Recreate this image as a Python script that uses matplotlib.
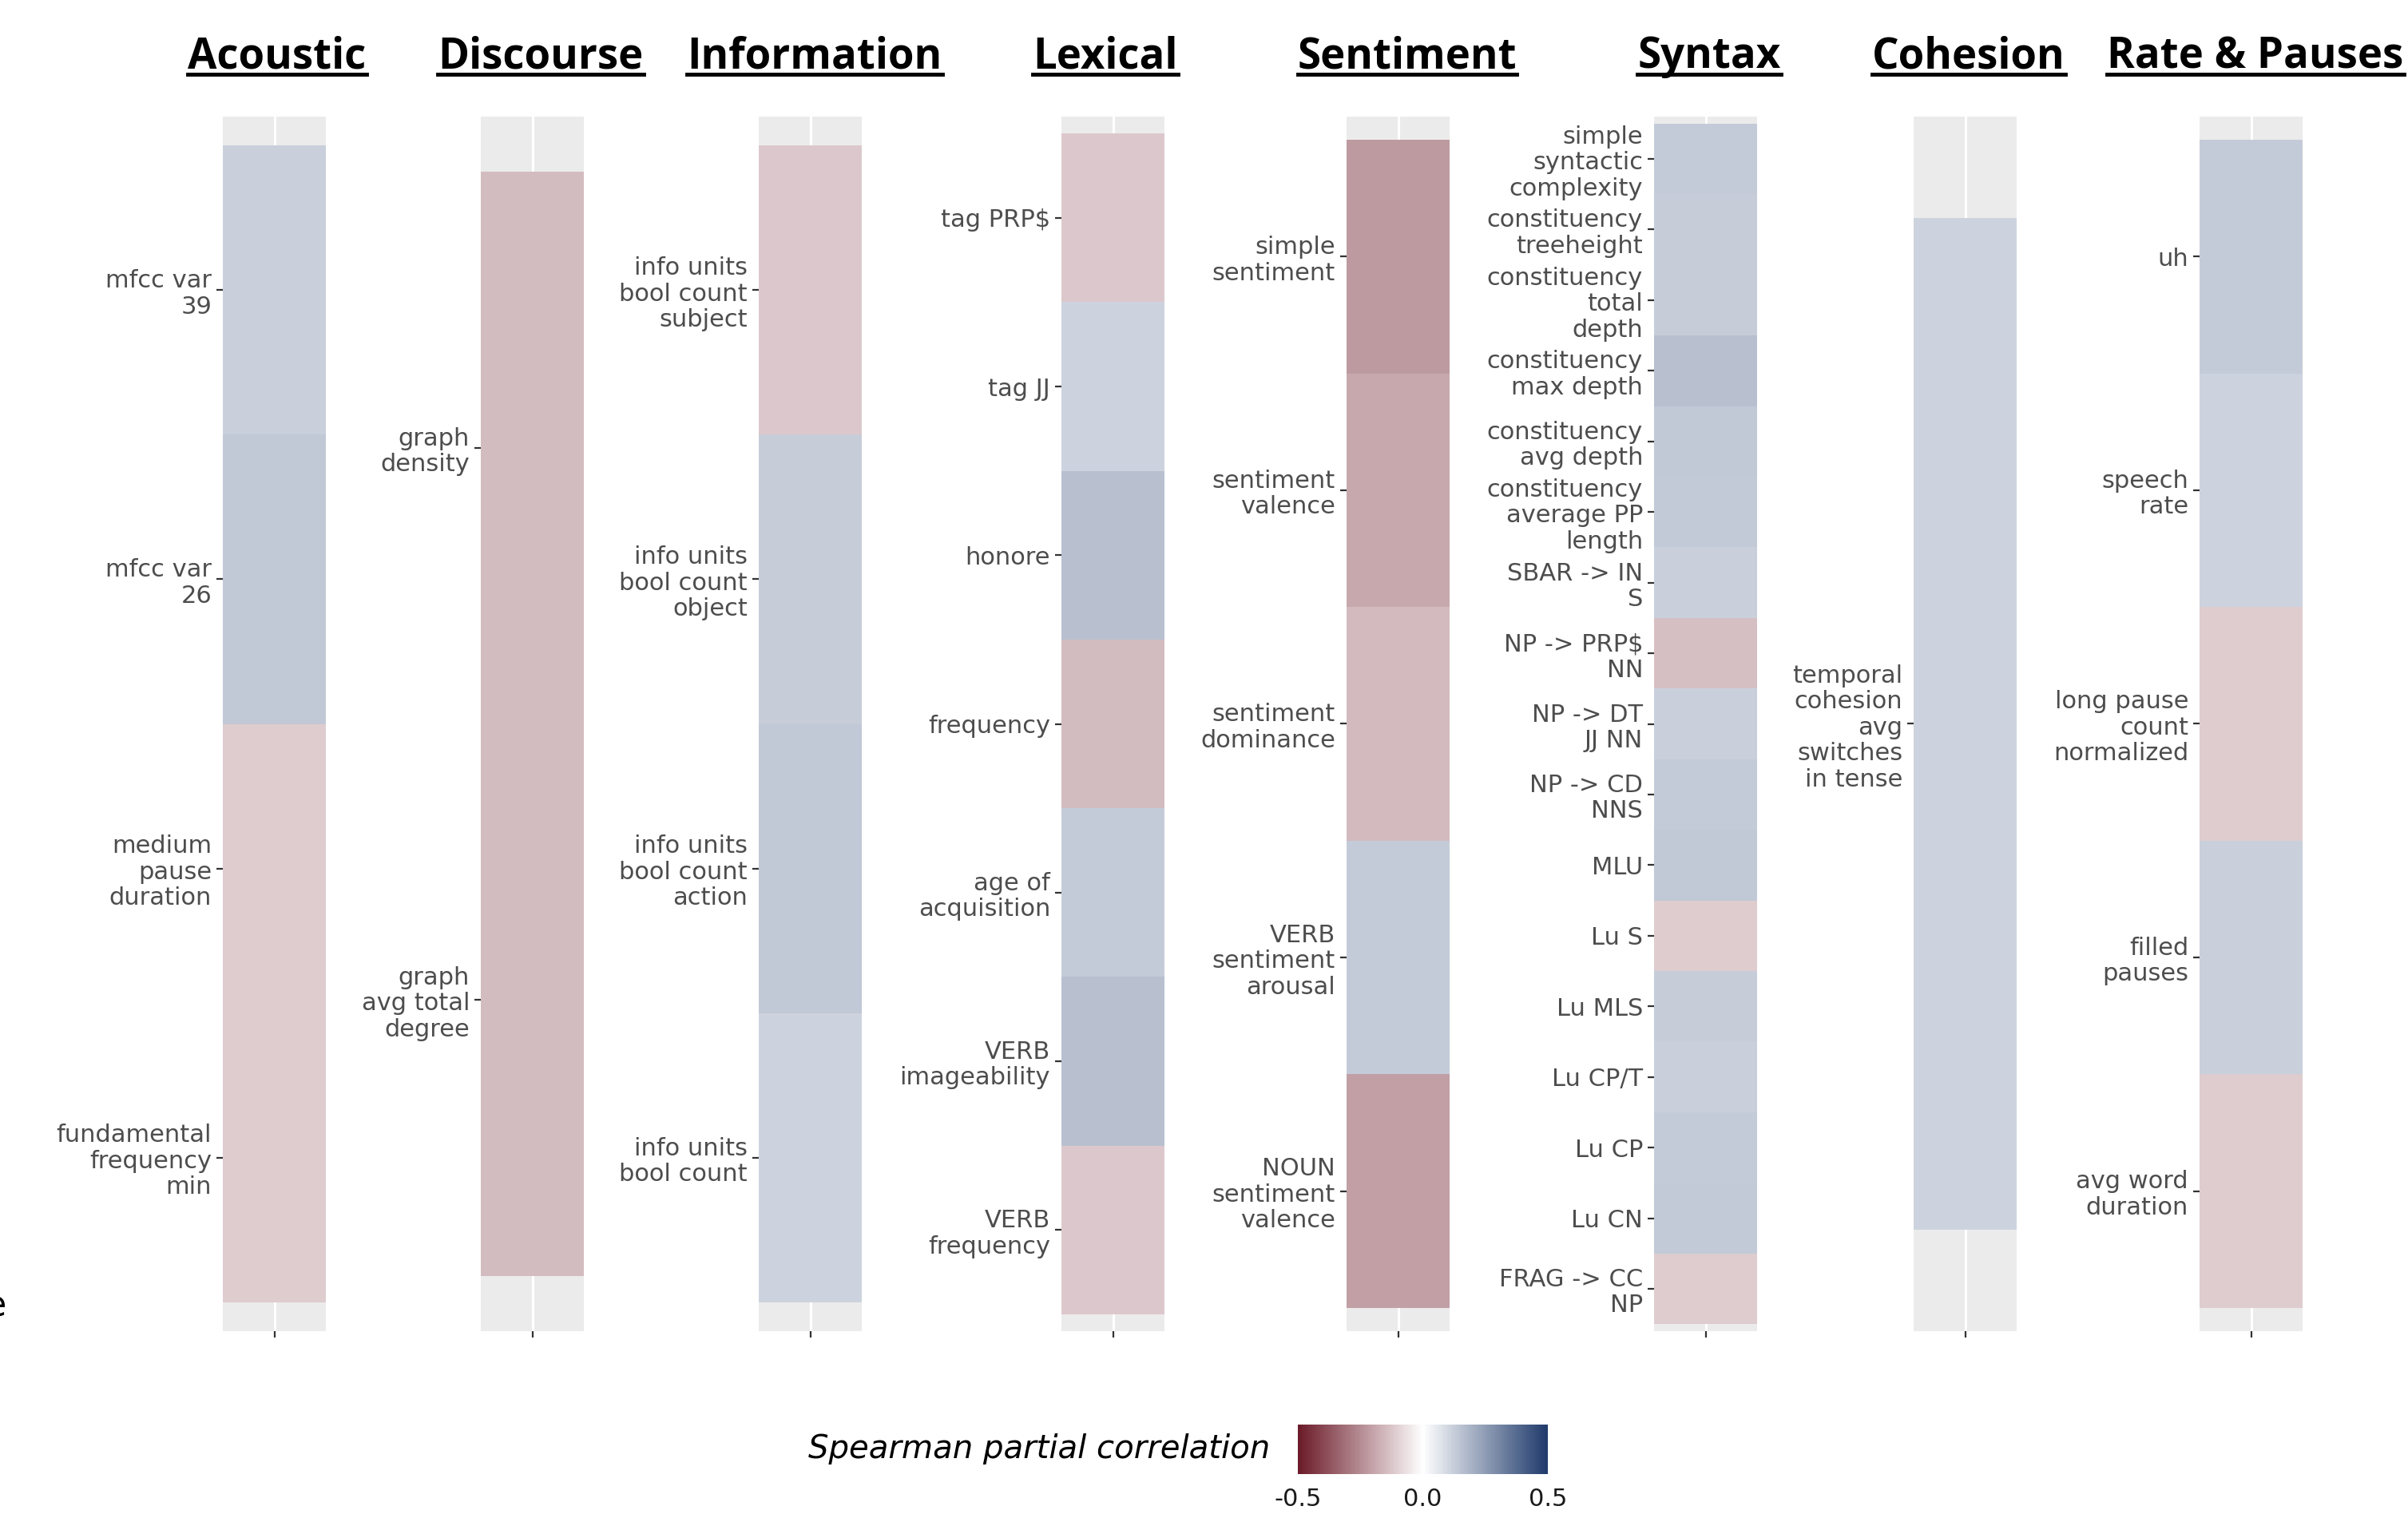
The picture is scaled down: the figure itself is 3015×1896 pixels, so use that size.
import matplotlib
matplotlib.use("Agg")
import matplotlib.pyplot as plt
from matplotlib.colors import LinearSegmentedColormap, Normalize
from matplotlib.cm import ScalarMappable
from matplotlib.lines import Line2D
import numpy as np

plt.rcParams['text.parse_math'] = False

# ---- data (top to bottom in each panel) ----
acoustic_labels = ["mfcc var\n39", "mfcc var\n26", "medium\npause\nduration",
                   "fundamental\nfrequency\nmin"]
acoustic_values = [0.12, 0.14, -0.11, -0.11]

discourse_labels = ["graph\ndensity", "graph\navg total\ndegree"]
discourse_values = [-0.145, -0.145]

information_labels = ["info units\nbool count\nsubject", "info units\nbool count\nobject",
                      "info units\nbool count\naction", "info units\nbool count"]
information_values = [-0.12, 0.125, 0.14, 0.11]

lexical_labels = ["tag PRP$", "tag JJ", "honore", "frequency", "age of\nacquisition",
                  "VERB\nimageability", "VERB\nfrequency"]
lexical_values = [-0.12, 0.11, 0.16, -0.145, 0.13, 0.16, -0.12]

sentiment_labels = ["simple\nsentiment", "sentiment\nvalence", "sentiment\ndominance",
                    "VERB\nsentiment\narousal", "NOUN\nsentiment\nvalence"]
sentiment_values = [-0.22, -0.19, -0.15, 0.13, -0.21]

syntax_labels = ["simple\nsyntactic\ncomplexity", "constituency\ntreeheight",
                 "constituency\ntotal\ndepth", "constituency\nmax depth",
                 "constituency\navg depth", "constituency\naverage PP\nlength",
                 "SBAR -> IN\nS", "NP -> PRP$\nNN", "NP -> DT\nJJ NN", "NP -> CD\nNNS",
                 "MLU", "Lu S", "Lu MLS", "Lu CP/T", "Lu CP", "Lu CN", "FRAG -> CC\nNP"]
syntax_values = [0.13, 0.125, 0.125, 0.16, 0.14, 0.135, 0.12, -0.14, 0.12, 0.13,
                 0.14, -0.11, 0.125, 0.12, 0.13, 0.135, -0.11]

cohesion_labels = ["temporal\ncohesion\navg\nswitches\nin tense"]
cohesion_values = [0.11]

rate_labels = ["uh", "speech\nrate", "long pause\ncount\nnormalized", "filled\npauses",
               "avg word\nduration"]
rate_values = [0.13, 0.11, -0.11, 0.12, -0.11]

panels = [
    ("Acoustic", acoustic_labels, acoustic_values),
    ("Discourse", discourse_labels, discourse_values),
    ("Information", information_labels, information_values),
    ("Lexical", lexical_labels, lexical_values),
    ("Sentiment", sentiment_labels, sentiment_values),
    ("Syntax", syntax_labels, syntax_values),
    ("Cohesion", cohesion_labels, cohesion_values),
    ("Rate & Pauses", rate_labels, rate_values),
]

# ---- layout (pixels) ----
W, H, DPI = 3015, 1896, 100
panel_left = [279, 602, 950, 1329, 1686, 2071, 2396, 2754]
title_x = [347, 677, 1020, 1384, 1762, 2140, 2465, 2824]
panel_w = 129
p_top, p_bot = 146, 1667


def fx(px):
    return px / W


def fy(py):
    return 1 - py / H


cmap = LinearSegmentedColormap.from_list("spc", ["#6B1A28", "#FFFFFF", "#1F3A6B"])
norm = Normalize(-0.5, 0.5)

fig = plt.figure(figsize=(W / DPI, H / DPI), dpi=DPI)

titles = []
for x0, tx, (title, labels, vals) in zip(panel_left, title_x, panels):
    ax = fig.add_axes([fx(x0), fy(p_bot), panel_w / W, (p_bot - p_top) / H])
    n = len(vals)
    ax.set_facecolor("#EBEBEB")
    ax.axvline(0.5, color="white", lw=2.2, zorder=0)
    ax.pcolormesh([0, 1], np.arange(n + 1) - 0.5, np.array(vals).reshape(-1, 1),
                  cmap=cmap, norm=norm, zorder=1, antialiased=False, linewidth=0)
    ax.set_xlim(0, 1)
    ax.set_ylim(n - 0.4, -0.6)
    ax.set_yticks(range(n))
    ax.set_yticklabels(labels, fontsize=22, color="#4D4D4D", linespacing=1.15)
    ax.set_xticks([0.5])
    ax.set_xticklabels([""])
    ax.tick_params(length=6, width=1.6, color="#333333", pad=4)
    for s in ax.spines.values():
        s.set_visible(False)
    t = fig.text(fx(tx), fy(85), title, ha="center", va="baseline",
                 fontsize=38, fontweight="bold", family=["Open Sans", "DejaVu Sans"])
    titles.append(t)

# colour bar
cax = fig.add_axes([fx(1625), fy(1846), 313 / W, 62 / H])
cb = fig.colorbar(ScalarMappable(norm=norm, cmap=cmap), cax=cax, orientation="horizontal",
                  ticks=[-0.5, 0.0, 0.5])
cb.outline.set_visible(False)
cb.ax.tick_params(length=0, labelsize=22, labelcolor="#1A1A1A", pad=12)
cb.ax.set_xticklabels(["-0.5", "0.0", "0.5"])
fig.text(fx(1590), fy(1815), "Spearman partial correlation", ha="right", va="center",
         fontsize=29, style="italic", color="#000000")

# clipped letter at left edge
fig.text(fx(8), fy(1636), "e", ha="right", va="center", fontsize=32, color="#000000")

# underline titles
fig.canvas.draw()
for t in titles:
    bb = t.get_window_extent()
    y = fy(93)
    fig.add_artist(Line2D([bb.x0 / W, bb.x1 / W], [y, y], transform=fig.transFigure,
                          color="black", lw=3.5))

fig.savefig("out.png", dpi=DPI)
